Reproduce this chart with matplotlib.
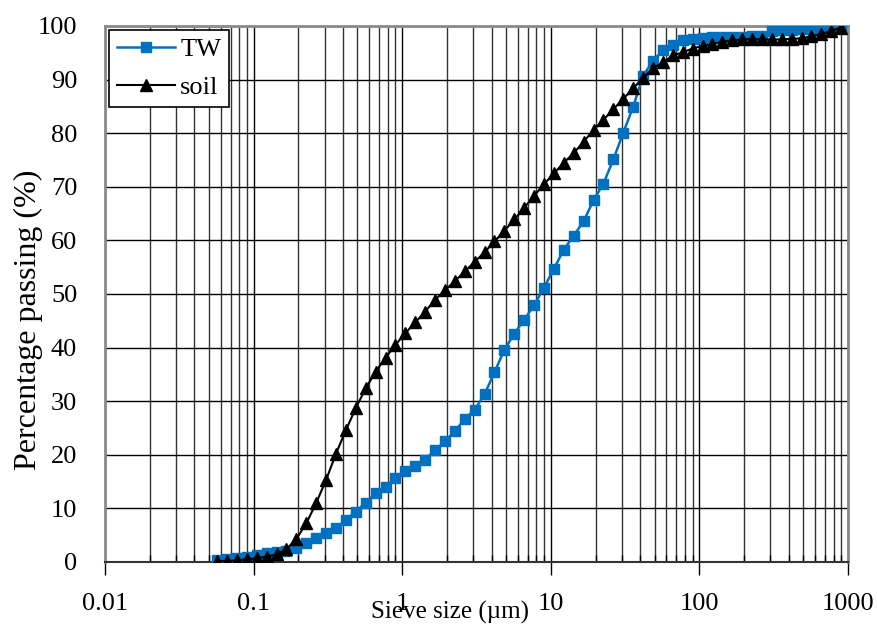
import matplotlib
matplotlib.use("Agg")
import matplotlib.pyplot as plt
from matplotlib.ticker import FixedLocator, FixedFormatter, LogLocator, NullFormatter

# Sieve sizes (µm)
sizes = [0.0568, 0.0662, 0.0772, 0.0900, 0.1050, 0.1224, 0.1427, 0.1664, 0.1940, 0.2262,
         0.2637, 0.3074, 0.3584, 0.4179, 0.4872, 0.568, 0.6622, 0.7721, 0.9002, 1.0495,
         1.2237, 1.4267, 1.6634, 1.9394, 2.2612, 2.6364, 3.0738, 3.5838, 4.1784, 4.8716,
         5.68, 6.622, 7.721, 9.002, 10.495, 12.237, 14.267, 16.634, 19.394, 22.612,
         26.364, 30.738, 35.838, 41.784, 48.716, 56.8, 66.22, 77.21, 90.02, 104.95,
         122.37, 142.67, 166.34, 193.94, 226.12, 263.64, 307.38, 358.38, 417.84, 487.16,
         568.0, 662.2, 772.1, 900.2]

tw = [0.3, 0.5, 0.8, 1.0, 1.3, 1.6, 1.9, 2.1, 2.6, 3.5,
      4.4, 5.4, 6.3, 7.9, 9.4, 11.1, 12.8, 14.0, 15.6, 17.0,
      17.9, 19.1, 20.9, 22.5, 24.4, 26.7, 28.4, 31.3, 35.4, 39.6,
      42.6, 45.2, 47.9, 51.2, 54.7, 58.3, 60.9, 63.6, 67.5, 70.6,
      75.1, 80.1, 84.9, 90.7, 93.5, 95.5, 96.5, 97.3, 97.6, 97.8,
      97.9, 97.9, 98.0, 98.0, 98.1, 98.2, 99.1, 99.2, 99.3, 99.4,
      99.5, 99.6, 99.8, 100.0]

soil = [0.2, 0.2, 0.3, 0.5, 0.7, 1.0, 1.4, 2.4, 4.3, 7.2,
        11.0, 15.3, 20.2, 24.6, 28.7, 32.4, 35.5, 38.1, 40.5, 42.7,
        44.7, 46.7, 48.9, 50.7, 52.4, 54.2, 56.0, 57.8, 59.8, 61.8,
        63.9, 66.1, 68.3, 70.5, 72.5, 74.5, 76.3, 78.4, 80.6, 82.5,
        84.5, 86.4, 88.4, 90.3, 92.1, 93.2, 94.5, 95.1, 95.8, 96.3,
        96.6, 97.1, 97.3, 97.5, 97.6, 97.5, 97.5, 97.5, 97.6, 97.7,
        98.1, 98.5, 99.1, 99.7]

x_ticks = [0.01, 0.1, 1, 10, 100, 1000]
x_tick_labels = ["0.01", "0.1", "1", "10", "100", "1000"]
y_ticks = [0, 10, 20, 30, 40, 50, 60, 70, 80, 90, 100]

plt.rcParams['font.family'] = ['Liberation Serif', 'DejaVu Serif']

fig = plt.figure(figsize=(8.78, 6.26), dpi=100)
ax = fig.add_axes([105/878, 1-562/626, (848-105)/878, (562-26)/626])

ax.set_xscale('log')
ax.set_xlim(0.01, 1000)
ax.set_ylim(0, 100)

ax.plot(sizes, tw, color='#0070C0', lw=1.8, marker='s', ms=7.5,
        mec='#0070C0', mfc='#0070C0', label='TW', zorder=3)
ax.plot(sizes, soil, color='black', lw=1.5, marker='^', ms=8.5,
        mec='black', mfc='black', label='soil', zorder=4)

ax.xaxis.set_major_locator(FixedLocator(x_ticks))
ax.xaxis.set_major_formatter(FixedFormatter(x_tick_labels))
ax.xaxis.set_minor_locator(LogLocator(base=10, subs=range(2, 10), numticks=20))
ax.xaxis.set_minor_formatter(NullFormatter())
ax.set_yticks(y_ticks)

ax.grid(True, which='major', axis='both', color='black', lw=1.0)
ax.grid(True, which='minor', axis='x', color='#333333', lw=1.0)
ax.set_axisbelow(True)

ax.tick_params(axis='x', which='major', direction='out', length=9, width=1,
               labelsize=19, pad=13)
ax.tick_params(axis='x', which='minor', direction='in', length=5, width=1)
ax.tick_params(axis='y', which='major', length=0, labelsize=19, pad=20)

for s in ['top', 'right', 'left']:
    ax.spines[s].set_color('#8a8a8a')
    ax.spines[s].set_linewidth(2)
ax.spines['bottom'].set_color('#333333')
ax.spines['bottom'].set_linewidth(1.5)

leg = ax.legend(loc='upper left', fontsize=19, frameon=True, fancybox=False,
                edgecolor='black', framealpha=1, handlelength=2.2,
                borderaxespad=0.15, labelspacing=0.55, handletextpad=0.2,
                borderpad=0.3)
leg.get_frame().set_linewidth(1.2)

fig.text(450/878, 1-612/626, 'Sieve size (µm)', ha='center', va='center', fontsize=18)
fig.text(28/878, 1-320/626, 'Percentage passing (%)', ha='center', va='center',
         rotation=90, fontsize=23)

fig.savefig('out.png', dpi=100)
